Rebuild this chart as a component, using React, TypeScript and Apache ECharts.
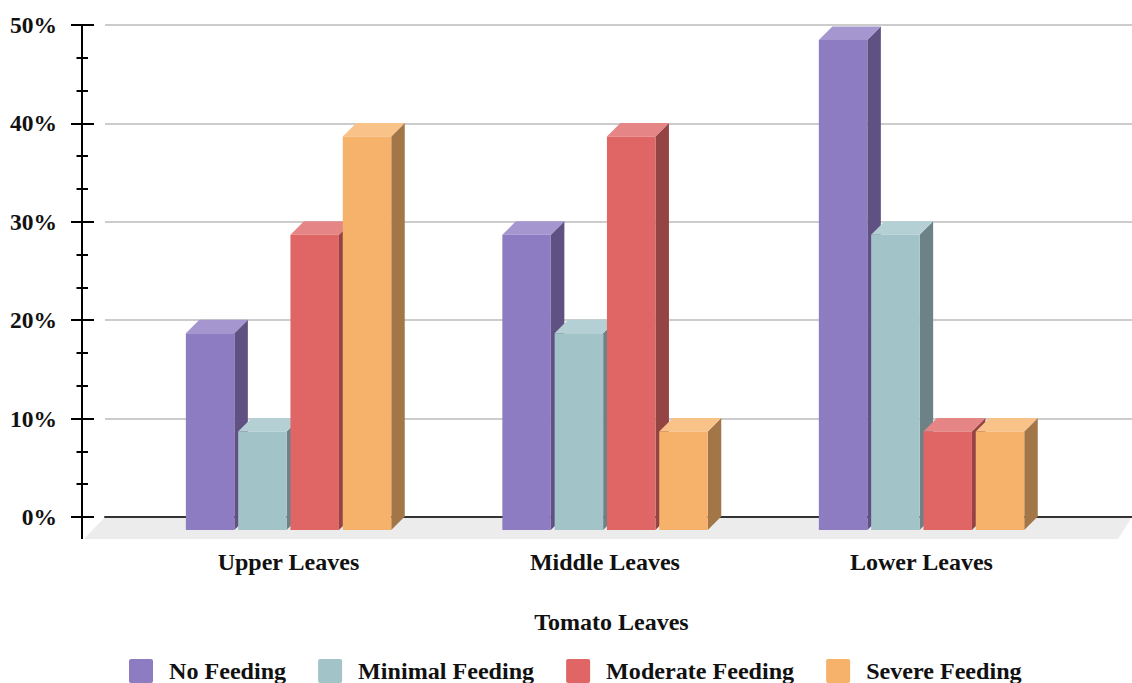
import React, { useEffect, useRef } from "react";
import * as echarts from "echarts";

const categories = ["Upper Leaves", "Middle Leaves", "Lower Leaves"];
const noFeeding = [20, 30, 49.8];
const minimalFeeding = [10, 20, 30];
const moderateFeeding = [30, 40, 10];
const severeFeeding = [40, 10, 10];
const seriesNames = ["No Feeding", "Minimal Feeding", "Moderate Feeding", "Severe Feeding"];
const seriesValues = [noFeeding, minimalFeeding, moderateFeeding, severeFeeding];
const frontColors = ["#8E7CC3", "#A2C4C9", "#E06666", "#F6B26B"];
const sideColors = ["#5F5283", "#6C8286", "#954444", "#A37647"];
const topColors = ["#A596CF", "#B5D0D4", "#E68585", "#F8C289"];

const FONT = '"Liberation Serif", "Times New Roman", serif';
const TEXT = "#111111";
const DEPTH = 13.5;
const BAR = 48.5;
const SLOT = 52.3;

function barRenderer(i: number) {
  return (_params: any, api: any) => {
    const top = api.coord([api.value(0), api.value(1)]);
    const base = api.coord([api.value(0), 0]);
    const x0 = top[0] + (i - 2) * SLOT + 2;
    const x1 = x0 + BAR;
    const yT = top[1] + DEPTH - 0.5;
    const yB = base[1] + DEPTH - 0.5;
    return {
      type: "group",
      children: [
        {
          type: "polygon",
          shape: { points: [[x1, yT], [x1 + DEPTH, yT - DEPTH], [x1 + DEPTH, yB - DEPTH], [x1, yB]] },
          style: { fill: sideColors[i] },
        },
        {
          type: "polygon",
          shape: { points: [[x0, yT], [x0 + DEPTH, yT - DEPTH], [x1 + DEPTH, yT - DEPTH], [x1, yT]] },
          style: { fill: topColors[i] },
        },
        { type: "rect", shape: { x: x0, y: yT, width: BAR, height: yB - yT }, style: { fill: frontColors[i] } },
      ],
    };
  };
}

export default function App() {
  const ref = useRef<HTMLDivElement>(null);
  useEffect(() => {
    document.body.style.margin = "0";
    document.body.style.overflow = "hidden";
    const chart = echarts.init(ref.current!, undefined, { renderer: "svg" });
    const yBase = { type: "value", min: 0, max: 50, interval: 10, position: "left", offset: 23 };
    chart.setOption({
      animation: false,
      backgroundColor: "#ffffff",
      textStyle: { fontFamily: FONT },
      grid: [
        { left: 105, top: 25, width: 1027, height: 492 },
        { left: 130.2, top: 25, width: 949.5, height: 492 },
      ],
      graphic: [
        {
          type: "polygon",
          z: -10,
          shape: { points: [[105, 517], [1132, 517], [1118, 539], [84, 539]] },
          style: { fill: "#ECECEC" },
        },
        {
          type: "line",
          z: 5,
          shape: { x1: 82, y1: 517, x2: 82, y2: 539 },
          style: { stroke: "#000000", lineWidth: 2 },
        },
      ],
      xAxis: [
        {
          gridIndex: 0,
          type: "value",
          min: 0,
          max: 1,
          axisLabel: { show: false },
          axisTick: { show: false },
          splitLine: { show: false },
          axisLine: { show: true, lineStyle: { color: "#333333", width: 2 } },
        },
        {
          gridIndex: 1,
          type: "category",
          data: categories,
          axisLine: { show: false },
          axisTick: { show: false },
          axisLabel: { margin: 32.5, color: TEXT, fontFamily: FONT, fontWeight: "bold", fontSize: 24 },
          name: "Tomato Leaves",
          nameLocation: "middle",
          nameGap: 93,
          nameTextStyle: { color: TEXT, fontFamily: FONT, fontWeight: "bold", fontSize: 24, padding: [0, 0, 0, 13] },
        },
      ],
      yAxis: [
        {
          ...yBase,
          gridIndex: 0,
          axisLine: { show: true, onZero: false, lineStyle: { color: "#000000", width: 2 } },
          axisTick: { show: true, length: 11, lineStyle: { color: "#000000", width: 2 } },
          minorTick: { show: true, splitNumber: 3, length: 5.5, lineStyle: { color: "#000000", width: 2 } },
          axisLabel: {
            margin: 25,
            formatter: "{value}%",
            color: TEXT,
            fontFamily: FONT,
            fontWeight: "bold",
            fontSize: 23.5,
          },
          splitLine: { show: true, lineStyle: { color: "#CCCCCC", width: 2 } },
        },
        {
          ...yBase,
          gridIndex: 0,
          axisLine: { show: false, onZero: false },
          axisTick: { show: true, inside: true, length: 12, lineStyle: { color: "#000000", width: 2 } },
          minorTick: { show: true, splitNumber: 3, length: 6, lineStyle: { color: "#000000", width: 2 } },
          axisLabel: { show: false },
          splitLine: { show: false },
        },
        { type: "value", min: 0, max: 50, interval: 10, gridIndex: 1, show: false },
      ],
      legend: {
        data: seriesNames,
        left: 129,
        top: 659,
        itemWidth: 24,
        itemHeight: 24,
        itemGap: 32,
        icon: "path://M2 0H22Q24 0 24 2V22Q24 24 22 24H2Q0 24 0 22V2Q0 0 2 0Z",
        padding: 0,
        textStyle: { color: TEXT, fontFamily: FONT, fontWeight: "bold", fontSize: 24.1, padding: [0, 0, 0, 11] },
      },
      series: seriesNames.map((name, i) => ({
        name,
        type: "custom",
        xAxisIndex: 1,
        yAxisIndex: 2,
        itemStyle: { color: frontColors[i] },
        encode: { x: 0, y: 1 },
        data: seriesValues[i].map((v, c) => [categories[c], v]),
        renderItem: barRenderer(i),
        silent: true,
      })),
    });
    return () => chart.dispose();
  }, []);
  return <div ref={ref} style={{ width: 1132, height: 683 }} />;
}
